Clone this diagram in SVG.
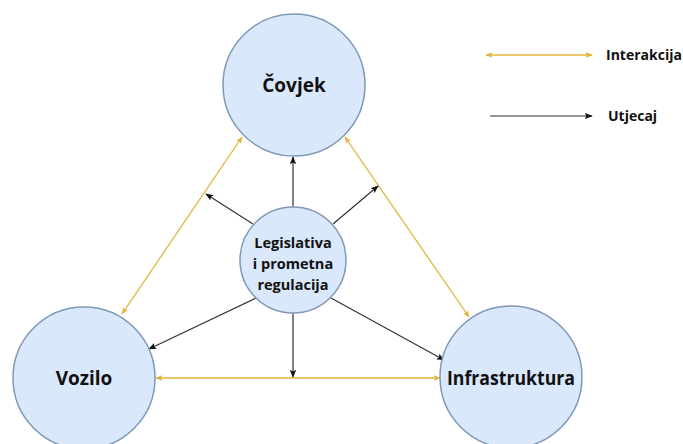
<svg xmlns="http://www.w3.org/2000/svg" width="683" height="444" viewBox="0 0 683 444">
<defs>
<style>
.node{fill:#dae8fc;stroke:#7f98b8;stroke-width:1.5}
.lbl{font-family:"Open Sans","Liberation Sans",sans-serif;font-weight:bold;fill:#111;text-anchor:middle}
.big{font-size:19px}
.mid{font-size:14.5px}
.leg{font-family:"Open Sans","Liberation Sans",sans-serif;font-weight:bold;font-size:14px;fill:#111}
.inter{stroke:#e0b43c;stroke-width:1.3;fill:none;marker-start:url(#ya);marker-end:url(#ya)}
.inf{stroke:#333;stroke-width:1.2;fill:none;marker-end:url(#ba)}
</style>
<marker id="ya" viewBox="0 0 10 10" refX="9" refY="5" markerWidth="7" markerHeight="7" orient="auto-start-reverse" markerUnits="userSpaceOnUse">
<path d="M0,1 L10,5 L0,9 L2,5 z" fill="#e0b43c"/>
</marker>
<marker id="ba" viewBox="0 0 10 10" refX="9" refY="5" markerWidth="8" markerHeight="8" orient="auto" markerUnits="userSpaceOnUse">
<path d="M0,1 L10,5 L0,9 L2,5 z" fill="#111"/>
</marker>
</defs>
<rect width="683" height="444" fill="#fff"/>
<g id="connectors">
<line class="inter" x1="242" y1="137" x2="122" y2="314"/>
<line class="inter" x1="345" y1="137" x2="469" y2="317"/>
<line class="inter" x1="156" y1="378" x2="440" y2="378"/>
<line class="inf" x1="293" y1="207" x2="293" y2="157"/>
<line class="inf" x1="253" y1="224" x2="206" y2="194"/>
<line class="inf" x1="333" y1="224" x2="378" y2="186"/>
<line class="inf" x1="256" y1="298" x2="149" y2="349"/>
<line class="inf" x1="331" y1="298" x2="444" y2="360"/>
<line class="inf" x1="293" y1="313" x2="293" y2="377"/>
</g>
<g id="legend">
<line class="inter" x1="486" y1="55" x2="592" y2="55"/>
<text class="leg" x="606" y="60">Interakcija</text>
<line class="inf" x1="490" y1="116" x2="592" y2="116"/>
<text class="leg" x="608" y="121">Utjecaj</text>
</g>
<g id="covjek">
<circle class="node" cx="294" cy="85" r="71"/>
<text class="lbl big" x="294" y="92">Čovjek</text>
</g>
<g id="legislativa">
<circle class="node" cx="293" cy="260" r="53"/>
<text class="lbl mid" x="293" y="248">Legislativa</text>
<text class="lbl mid" x="293" y="269">i prometna</text>
<text class="lbl mid" x="293" y="290">regulacija</text>
</g>
<g id="vozilo">
<circle class="node" cx="84" cy="378" r="71"/>
<text class="lbl big" x="84" y="385">Vozilo</text>
</g>
<g id="infrastruktura">
<circle class="node" cx="511" cy="377" r="71"/>
<text class="lbl big" x="511" y="385" textLength="128" lengthAdjust="spacingAndGlyphs">Infrastruktura</text>
</g>
</svg>
